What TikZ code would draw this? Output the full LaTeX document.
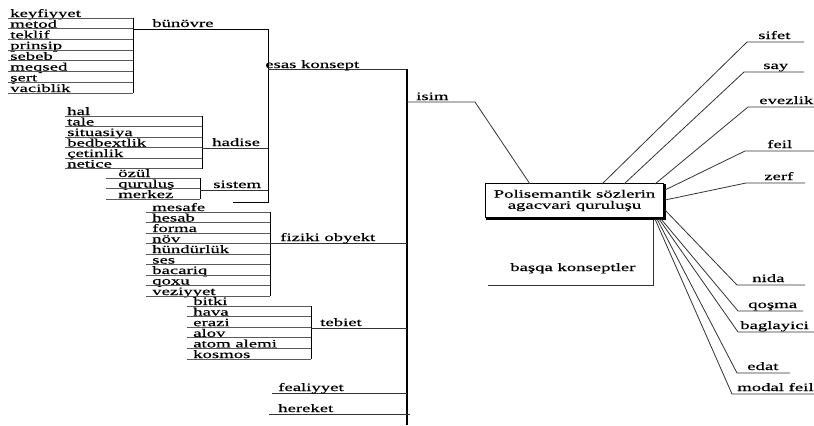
\documentclass[tikz,border=0pt]{standalone}
\usepackage{fontspec}
\setmainfont{Liberation Serif}
\newfontfamily\lblfont[FakeStretch=1.65,FakeBold=0.4]{Liberation Serif}
\begin{document}
\begin{tikzpicture}[x=0.75pt,y=-0.75pt,
  lbl/.style={font=\lblfont\fontsize{8.5}{9.5}\selectfont, inner sep=0pt, anchor=base west, text=black},
  uline/.style={draw=black!65, line width=0.55pt},
  stem/.style={draw=black, line width=0.75pt},
  trunk/.style={draw=black, line width=1.1pt},
  branch/.style={draw=black!80, line width=0.6pt},
  rootbox/.style={draw=black, line width=0.6pt, fill=white, inner sep=0pt,
    minimum width=134pt, minimum height=26pt, align=center,
    font=\lblfont\fontsize{8.5}{8.3}\selectfont}]
\useasboundingbox (0,0) rectangle (814,425);

% ---------- group: bünövre ----------
\foreach \t [count=\i] in {keyfiyyet,metod,teklif,prinsip,sebeb,meqsed,şert,vaciblik}{
  \pgfmathsetmacro\yy{18+(\i-1)*10.714}
  \node[lbl] (a\i) at (10,\yy-1) {\t};
  \draw[uline] (8,\yy) -- (133,\yy);
}
\coordinate (aTop) at (133,18);
\coordinate (aBot) at (133,93);
\coordinate (aJ) at (133,29);
\draw[stem] (aTop) -- (aBot);

% left spine
\coordinate (sTop) at (268,29);
\coordinate (sEsas) at (268,69);
\coordinate (sHad) at (268,148);
\coordinate (sSis) at (268,190);
\coordinate (sBot) at (268,202);
\coordinate (sStub) at (233,202);
\draw[stem] (aJ) -- (sTop) -- (sBot) -- (sStub);
\node[lbl] (bunovre) at (152,27) {bünövre};

% ---------- group: hadise ----------
\foreach \t [count=\i] in {hal,tale,situasiya,bedbextlik,çetinlik,netice}{
  \pgfmathsetmacro\yy{116+(\i-1)*10.5}
  \node[lbl] (b\i) at (67,\yy-1) {\t};
  \draw[uline] (65,\yy) -- (202,\yy);
}
\coordinate (bTop) at (202,116);
\coordinate (bBot) at (202,168.5);
\coordinate (bJ) at (202,148);
\draw[stem] (bTop) -- (bBot);
\draw[branch] (bJ) -- (sHad);
\node[lbl] (hadise) at (212,146) {hadise};

% ---------- group: sistem ----------
\foreach \t [count=\i] in {özül,quruluş,merkez}{
  \pgfmathsetmacro\yy{178+(\i-1)*10.5}
  \node[lbl] (c\i) at (118,\yy-1) {\t};
  \draw[uline] (106,\yy) -- (200,\yy);
}
\coordinate (cTop) at (200,178);
\coordinate (cBot) at (200,199);
\coordinate (cJ) at (200,190);
\draw[stem] (cTop) -- (cBot);
\draw[branch] (cJ) -- (sSis);
\node[lbl] (sistem) at (213,188) {sistem};

% ---------- main trunk ----------
\coordinate (tTop) at (407,69);
\coordinate (tBot) at (407,425);
\draw[branch] (sEsas) -- (tTop);
\draw[trunk] (tTop) -- (tBot);
\node[lbl] (esas) at (265,68) {esas konsept};

% ---------- group: fiziki obyekt ----------
\foreach \t [count=\i] in {mesafe,hesab,forma,növ,hündürlük,ses,bacariq,qoxu,veziyyet}{
  \pgfmathsetmacro\yy{212+(\i-1)*10.5}
  \node[lbl] (d\i) at (152,\yy-1) {\t};
  \draw[uline] (146,\yy) -- (270,\yy);
}
\coordinate (dTop) at (270,212);
\coordinate (dBot) at (270,296);
\coordinate (dJ) at (270,243);
\coordinate (tFiz) at (407,243);
\draw[stem] (dTop) -- (dBot);
\draw[branch] (dJ) -- (tFiz);
\node[lbl] (fiziki) at (280,241) {fiziki obyekt};

% ---------- group: tebiet ----------
\foreach \t [count=\i] in {bitki,hava,erazi,alov,atom alemi,kosmos}{
  \pgfmathsetmacro\yy{306+(\i-1)*10.6}
  \node[lbl] (e\i) at (193,\yy-1) {\t};
  \draw[uline] (187,\yy) -- (311,\yy);
}
\coordinate (eTop) at (311,306);
\coordinate (eBot) at (311,359);
\coordinate (eJ) at (311,328);
\coordinate (tTeb) at (407,328);
\draw[stem] (eTop) -- (eBot);
\draw[branch] (eJ) -- (tTeb);
\node[lbl] (tebiet) at (320,326) {tebiet};

% ---------- fealiyyet, hereket ----------
\coordinate (fL) at (272,393);
\coordinate (tFea) at (407,393);
\draw[branch] (fL) -- (tFea);
\node[lbl] (fealiyyet) at (278,391) {fealiyyet};
\coordinate (hL) at (269,414);
\coordinate (hR) at (410,414);
\draw[branch] (hL) -- (hR);
\node[lbl] (hereket) at (278,412) {hereket};

% ---------- root box ----------
\draw[black, line width=1.2pt] (486,218.8) -- (664.8,218.8) -- (664.8,184);
\node[rootbox] (root) at (574.5,200.5) {Polisemantik sözlerin\\agacvari quruluşu};

% isim
\coordinate (tIsim) at (407,102);
\coordinate (iK) at (475,102);
\coordinate (iE) at (530,184);
\draw[branch] (tIsim) -- (iK) -- (iE);
\node[lbl] (isim) at (416,100) {isim};

% başqa konseptler
\coordinate (bqA) at (653,219.5);
\coordinate (bqB) at (653,285);
\coordinate (bqC) at (488,285);
\draw[branch] (bqA) -- (bqB) -- (bqC);
\node[lbl] (basqa) at (510,271) {başqa konseptler};

% ---------- right-hand branches ----------
\foreach \nm/\sx/\sy/\kx/\ky/\ex/\tx in {
  sifet/602/184/747/42/804/758,
  say/624/184/744/72/804/763,
  evezlik/655/184/748/107/814/759,
  feil/665/190/745/151/814/767,
  zerf/665/200/746/183/805/764,
  nida/665/210/737/285/805/752,
  qoşma/661/219/738/311/803/748,
  baglayici/659/219/738/332/814/740,
  edat/657/219/737/373/790/747,
  modal feil/655/219/732/394/814/737}{
  \coordinate (s-\nm) at (\sx,\sy);
  \coordinate (k-\nm) at (\kx,\ky);
  \coordinate (e-\nm) at (\ex,\ky);
  \draw[branch] (s-\nm) -- (k-\nm) -- (e-\nm);
  \node[lbl] (l-\nm) at (\tx,\ky-3) {\nm};
}
\end{tikzpicture}
\end{document}
